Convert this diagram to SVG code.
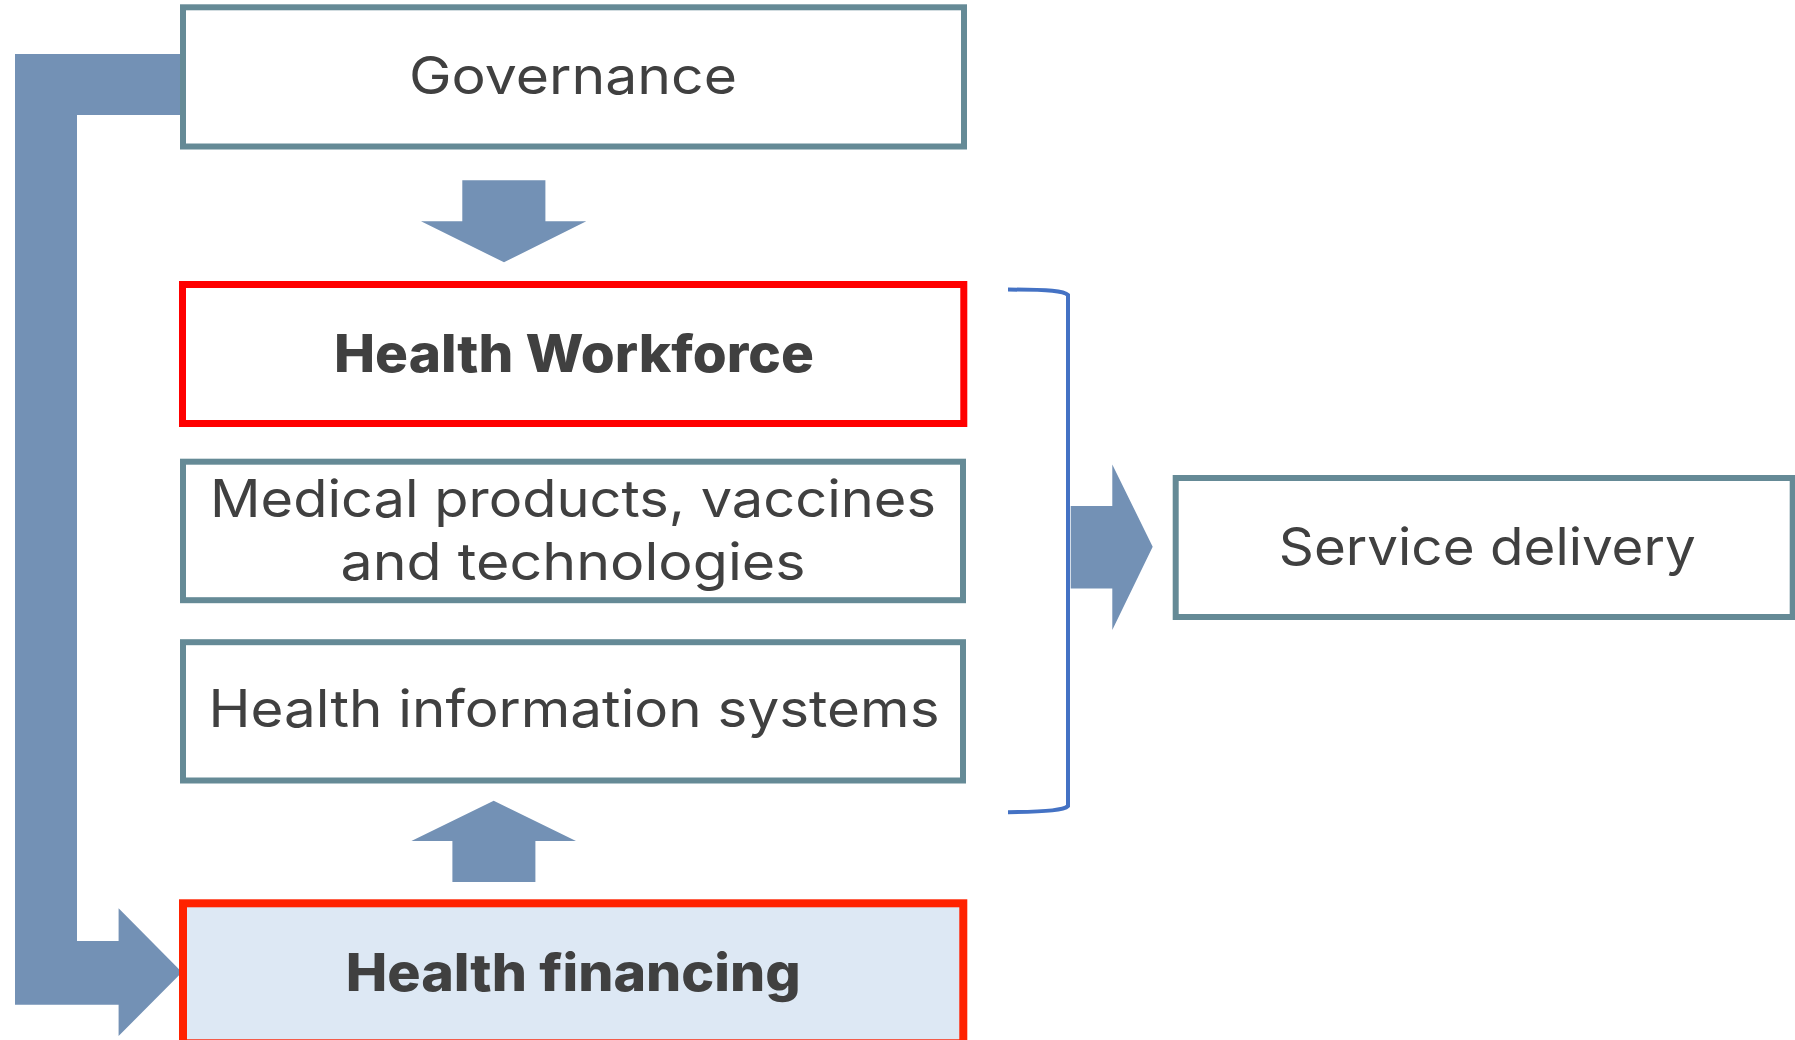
<svg xmlns="http://www.w3.org/2000/svg" width="1795" height="1040" viewBox="0 0 1795 1040">
  <style>
    .box { fill: #ffffff; stroke: #658a96; stroke-width: 6; }
    .hl { fill: #ffffff; stroke: #ff0000; stroke-width: 7; }
    .fin { fill: #dde8f4; stroke: #ff2200; stroke-width: 8; }
    .arrow { fill: #7391b5; stroke: none; }
    .bracket { fill: none; stroke: #4472c4; stroke-width: 4; }
    .t { font-family: Inter, "Open Sans", "Liberation Sans", sans-serif; font-size: 52px; fill: #404040; text-anchor: middle; }
    .b { font-weight: 800; }
  </style>

  <rect width="1795" height="1040" fill="#ffffff"/>

  <!-- connectors -->
  <g id="connectors">
    <!-- elbow arrow: Governance -> Health financing -->
    <path class="arrow" d="M15,54 L180,54 L180,115 L77,115 L77,941 L118.6,941 L118.6,908.3 L182,972.3 L118.6,1036 L118.6,1004.7 L15,1004.7 Z"/>
    <!-- Governance -> Health Workforce -->
    <polygon class="arrow" points="462.3,180.3 545.4,180.3 545.4,221.3 586.3,221.3 504,262.3 421,221.3 462.3,221.3"/>
    <!-- Health financing -> Health information systems -->
    <polygon class="arrow" points="493.7,800.7 576,841 535.4,841 535.4,882 452.4,882 452.4,841 411.4,841"/>
    <!-- bracket grouping the three building blocks -->
    <path class="bracket" d="M1008,289.6 C1050,289.6 1064,291 1068,295 L1068,806 C1064,810 1050,811.6 1008,812.2"/>
    <!-- bracket -> Service delivery -->
    <polygon class="arrow" points="1070.7,506 1112.3,506 1112.3,464.6 1152.7,546.7 1112.3,630 1112.3,588.5 1070.7,588.5"/>
  </g>

  <g id="governance">
    <rect class="box" x="183" y="7.3" width="781" height="139.2"/>
    <text class="t" x="573" y="94" textLength="328" lengthAdjust="spacingAndGlyphs">Governance</text>
  </g>

  <g id="health-workforce">
    <rect class="hl" x="182.5" y="284.5" width="781.3" height="139"/>
    <text class="t b" x="574" y="371.7" textLength="480" lengthAdjust="spacingAndGlyphs">Health Workforce</text>
  </g>

  <g id="medical-products">
    <rect class="box" x="183" y="461.7" width="780" height="138.5"/>
    <text class="t" x="573" y="516.7" textLength="726" lengthAdjust="spacingAndGlyphs">Medical products, vaccines</text>
    <text class="t" x="573" y="580" textLength="465" lengthAdjust="spacingAndGlyphs">and technologies</text>
  </g>

  <g id="health-information">
    <rect class="box" x="183" y="642.2" width="780" height="138.3"/>
    <text class="t" x="574" y="727.3" textLength="731" lengthAdjust="spacingAndGlyphs">Health information systems</text>
  </g>

  <g id="health-financing">
    <rect class="fin" x="183" y="903.3" width="780.3" height="140"/>
    <text class="t b" x="573.3" y="990.7" textLength="455" lengthAdjust="spacingAndGlyphs">Health financing</text>
  </g>

  <g id="service-delivery">
    <rect class="box" x="1175.7" y="478" width="617" height="139"/>
    <text class="t" x="1487.3" y="565" textLength="417" lengthAdjust="spacingAndGlyphs">Service delivery</text>
  </g>
</svg>
